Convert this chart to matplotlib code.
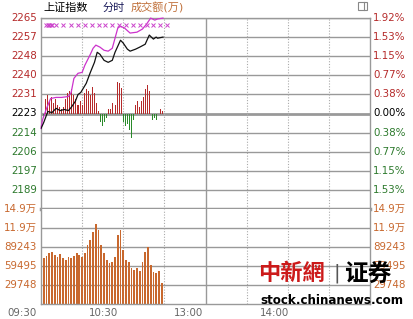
import numpy as np
import matplotlib.pyplot as plt
from matplotlib.patches import Rectangle

plt.rcParams['font.family'] = ['DejaVu Sans', 'Noto Sans CJK SC']

# 昨收与刻度
prev_close = 2222.7
pct_labels = ['1.92%', '1.53%', '1.15%', '0.77%', '0.38%', '0.00%',
              '0.38%', '0.77%', '1.15%', '1.53%']
price_labels = ['2265', '2257', '2248', '2240', '2231', '2223',
                '2214', '2206', '2197', '2189']
vol_labels = ['14.9万', '11.9万', '89243', '59495', '29748']
vol_ticks = [148740, 118992, 89243, 59495, 29748]
time_labels = ['09:30', '10:30', '13:00', '14:00']
time_ticks = [0, 60, 120, 180]

# 上证指数 (分钟, 点位)
idx_min = [0, 2, 5, 8, 11, 14, 17, 20, 22, 25, 27, 29, 33, 36, 39, 41, 43,
           46, 49, 52, 54, 58, 60, 63, 65, 69, 72, 76, 79, 82, 84, 85, 89]
idx_val = [2216.0, 2218.7, 2223.6, 2223.1, 2225.0, 2224.0, 2224.5, 2224.0,
           2225.4, 2228.1, 2231.2, 2232.1, 2236.2, 2241.1, 2245.6, 2250.1,
           2249.2, 2246.5, 2245.6, 2246.5, 2250.1, 2255.5, 2254.2, 2251.5,
           2250.6, 2251.5, 2252.4, 2253.7, 2257.8, 2256.0, 2256.9, 2256.4,
           2256.9]

# 领先指标
lead_min = [0, 1, 4, 7, 11, 15, 20, 22, 24, 27, 30, 32, 36, 38, 40, 43, 46,
            49, 52, 54, 56, 58, 61, 65, 70, 74, 77, 80, 83, 85, 89]
lead_val = [2216.0, 2219.6, 2224.9, 2229.4, 2229.9, 2229.9, 2230.3, 2232.1,
            2238.4, 2240.7, 2241.1, 2244.3, 2249.2, 2251.9, 2253.3, 2252.4,
            2251.0, 2250.6, 2251.9, 2256.4, 2260.9, 2261.8, 2260.9, 2258.7,
            2259.1, 2260.5, 2262.7, 2265.4, 2264.5, 2265.0, 2265.4]

# 红绿柱 (每1.5分钟)
bar_min = [i * 1.5 for i in range(60)]
bar_val = [-3.1, -2.2, 6.3, 8.1, 5.8, 7.2, 4.5, 6.3, 3.6, 2.7,
           1.8, 3.1, 6.3, 9.0, 9.9, 10.8, 8.1, 6.3, 4.0, 5.4,
           3.6, 9.0, 10.8, 9.9, 8.1, 11.7, 9.0, 4.5, 1.3, -3.6,
           -5.4, -4.0, -2.2, 2.2, 1.8, 4.5, 3.6, 13.9, 13.5, 11.2,
           -3.6, -5.4, -4.5, -7.2, -10.8, -2.7, 3.6, 5.4, 2.7, 5.4,
           7.2, 10.8, 12.6, 9.9, -3.1, -2.2, -3.1, 0.0, 2.2, 1.3]

# 标记
mark_min = [4, 5, 6, 7, 8, 11, 16, 22, 27, 32, 37, 42, 47, 52, 57, 62, 67,
            72, 77, 82, 87, 92]
mark_level = 2262.3

# 成交额
vol_min = [0] + list(range(2, 90, 2))
vol_val = [137000, 72000, 75000, 80000, 81400, 76700, 73600, 78300, 72000,
           68900, 73600, 72000, 75000, 80000, 76700, 73600, 80000, 92400,
           100000, 112700, 125000, 115900, 92400, 80000, 68900, 64200, 65800,
           73600, 108000, 115900, 84500, 68900, 65800, 56400, 53200, 56400,
           51700, 65800, 81400, 89200, 61000, 50100, 48500, 51700, 32900]

W, H = 413, 319
fig = plt.figure(figsize=(W / 100, H / 100), dpi=100)
L, R = 41, 370
ax1 = fig.add_axes([L / W, 1 - 209 / H, (R - L) / W, 191 / H])
ax2 = fig.add_axes([L / W, 1 - 304 / H, (R - L) / W, 95 / H])

grid_c = '#999999'
red_c = '#b52a2a'
green_c = '#2d7a2d'
vol_c = '#c8682e'

step = prev_close * 0.003846
levels = [prev_close + step * k for k in range(5, -5, -1)]
ax1.set_xlim(0, 240)
ax1.set_ylim(prev_close - 5 * step, prev_close + 5 * step)
for lv in levels:
    lw = 2 if abs(lv - prev_close) < 1e-6 else 1
    ax1.axhline(lv, color=grid_c, lw=lw, zorder=1)

ax2.set_xlim(0, 240)
ax2.set_ylim(0, 148740)
for lv in vol_ticks[1:]:
    ax2.axhline(lv, color=grid_c, lw=1, zorder=1)

for ax in (ax1, ax2):
    for m in [30, 60, 90, 150, 180, 210]:
        ax.axvline(m, color='#aaaaaa', lw=0.8, ls=(0, (1, 1.5)), zorder=1)
    ax.axvline(120, color=grid_c, lw=1, zorder=1)
    ax.set_xticks([])
    ax.set_yticks([])
    for s in ax.spines.values():
        s.set_color(grid_c)
        s.set_linewidth(1)
ax1.spines['bottom'].set_linewidth(2.5)
ax2.spines['top'].set_visible(False)

# 红绿柱
colors = [red_c if v >= 0 else '#2a8a2a' for v in bar_val]
ax1.bar(bar_min, bar_val, bottom=prev_close, width=0.75, color=colors,
        zorder=2)
ax1.plot(lead_min, lead_val, color='#cc33cc', lw=0.9, zorder=3, clip_on=False)
ax1.plot(idx_min, idx_val, color='#111111', lw=0.9, zorder=4)
ax1.plot(mark_min, [mark_level] * len(mark_min), ls='none', marker='x',
         ms=2.8, mew=0.7, color='#cc44cc', zorder=4)

ax2.bar(vol_min, vol_val, width=1.3, color=vol_c, zorder=2)

# 刻度文字
fs = 7.4
for i, lv in enumerate(levels):
    c = red_c if i < 5 else ('black' if i == 5 else green_c)
    ax1.text(-0.012, lv, price_labels[i], color=c, fontsize=fs,
             ha='right', va='center', transform=ax1.get_yaxis_transform())
    ax1.text(1.01, lv, pct_labels[i], color=c, fontsize=fs,
             ha='left', va='center', transform=ax1.get_yaxis_transform())
for lab, lv in zip(vol_labels, vol_ticks):
    ax2.text(-0.012, lv, lab, color=vol_c, fontsize=fs,
             ha='right', va='center', transform=ax2.get_yaxis_transform())
    ax2.text(1.01, lv, lab, color=vol_c, fontsize=fs,
             ha='left', va='center', transform=ax2.get_yaxis_transform())

offs = [-19, -20, -17, -13]
for lab, t, o in zip(time_labels, time_ticks, offs):
    ax2.annotate(lab, (t, 0), xytext=(o, -9), textcoords='offset pixels',
                 xycoords=('data', 'axes fraction'), ha='center',
                 va='center', color='#666666', fontsize=fs)

# 标题
fig.text(43 / W, 1 - 8 / H, '上证指数', fontsize=8, color='black', va='center')
fig.text(103 / W, 1 - 8 / H, '分时', fontsize=8, color='#1a1a5a', va='center')
fig.text(131 / W, 1 - 8 / H, '成交额(万)', fontsize=8, color='#c0703a',
         va='center')

# 右上角小图标
fig.patches.append(Rectangle((358 / W, 1 - 10 / H), 9 / W, 8 / H,
                             fill=False, ec='#888888', lw=0.8,
                             transform=fig.transFigure))
fig.lines.append(plt.Line2D([363.5 / W, 363.5 / W], [1 - 10 / H, 1 - 2 / H],
                            color='#888888', lw=0.8,
                            transform=fig.transFigure))

# 水印
fig.text(258 / W, 1 - 273 / H, '中新網', fontsize=16, fontweight='bold',
         color='#cc1a1a', va='center', family=['Noto Sans CJK TC'])
fig.text(333 / W, 1 - 273 / H, '|', fontsize=14, color='#555555',
         va='center')
fig.text(344 / W, 1 - 274 / H, '证券', fontsize=17, fontweight='bold',
         color='black', va='center', family=['Noto Sans CJK SC'])
fig.text(260 / W, 1 - 300 / H, 'stock.chinanews.com', fontsize=8.6,
         fontweight='bold', color='black', va='center')

fig.savefig('out.png', dpi=100)
